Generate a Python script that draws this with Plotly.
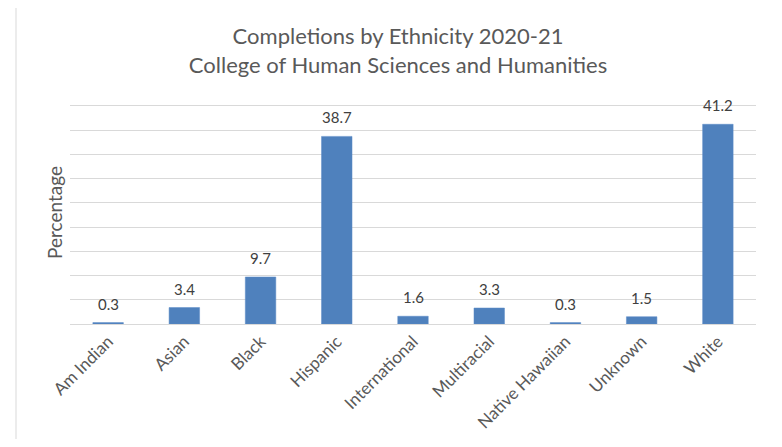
import plotly.graph_objects as go

categories = ["Am Indian", "Asian", "Black", "Hispanic", "International",
              "Multiracial", "Native Hawaiian", "Unknown", "White"]
values = [0.3, 3.4, 9.7, 38.7, 1.6, 3.3, 0.3, 1.5, 41.2]
labels = ["0.3", "3.4", "9.7", "38.7", "1.6", "3.3", "0.3", "1.5", "41.2"]

# The page body has an 8px default margin, so the figure is offset by 8px.
OFF = 8
W, H = 782 - OFF, 447 - 2 * OFF
L, T = 70 - OFF, 101 - OFF
R = W - (756 - OFF)
B = H - (324 - OFF)
FONT = "Lato, 'Open Sans', sans-serif"

fig = go.Figure()
fig.add_trace(go.Bar(
    x=categories, y=values, width=0.4,
    marker=dict(color="#4f81bd", line=dict(color="#5a8ac6", width=0.5)),
    hoverinfo="x+y",
))

annotations = []
for c, v, t in zip(categories, values, labels):
    annotations.append(dict(
        x=c, y=v, xref="x", yref="y", text=t, showarrow=False,
        yanchor="bottom", yshift=8,
        font=dict(family=FONT, size=15, color="#404040"),
    ))

pw = W - L - R
ph = H - T - B
fig.update_layout(
    width=W, height=H,
    margin=dict(l=L, r=R, t=T, b=B, autoexpand=False),
    paper_bgcolor="white", plot_bgcolor="white",
    showlegend=False,
    bargap=0.6,
    title=dict(
        text="Completions by Ethnicity 2020-21<br>College of Human Sciences and Humanities",
        x=(398 - OFF) / W, xanchor="center", xref="container",
        y=1 - (44 - OFF) / H, yanchor="middle", yref="container",
        font=dict(family=FONT, size=22, color="#595959"),
        automargin=False,
    ),
    annotations=annotations,
    shapes=[dict(
        type="rect", xref="paper", yref="paper",
        x0=(16 - OFF - L) / pw, x1=(776 - OFF - L) / pw,
        y0=-(B + 10) / ph, y1=1 + (T - (7 - OFF)) / ph,
        line=dict(color="#d9d9d9", width=1), fillcolor="rgba(0,0,0,0)",
        layer="below",
    )],
)
fig.update_xaxes(
    automargin=False,
    showline=True, linecolor="#d9d9d9", linewidth=1,
    tickangle=-45, ticks="",
    tickfont=dict(family=FONT, size=17, color="#595959"),
    showgrid=False,
)
fig.update_yaxes(
    automargin=False,
    range=[0, 46], dtick=5, showticklabels=False, ticks="",
    showgrid=True, gridcolor="#d9d9d9", gridwidth=1,
    zeroline=False,
    title=dict(text="Percentage", font=dict(family=FONT, size=19, color="#595959"), standoff=1),
)

fig.write_html("out.html")
